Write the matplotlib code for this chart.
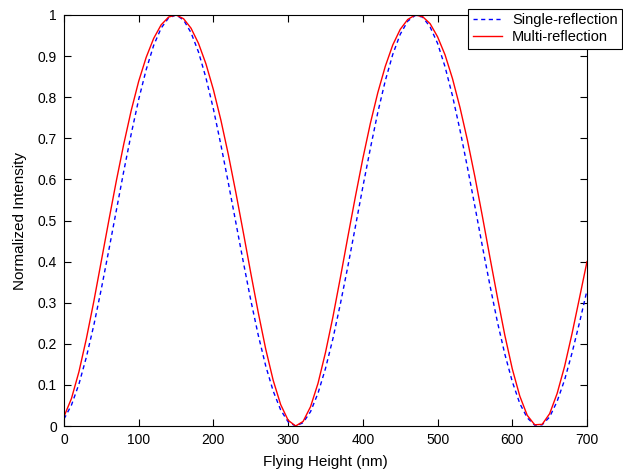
import matplotlib
matplotlib.use('Agg')
import matplotlib.pyplot as plt

plt.rcParams['font.family'] = ['Liberation Sans', 'DejaVu Sans']

# flying height samples (nm)
height = list(range(0, 701, 10))

# intensity
single_reflection = [
    0.017, 0.051, 0.102, 0.168, 0.246, 0.334, 0.428, 0.524, 0.620, 0.711,
    0.795, 0.867, 0.926, 0.968, 0.993, 1.000, 0.988, 0.957, 0.910, 0.847,
    0.771, 0.684, 0.591, 0.495, 0.399, 0.306, 0.221, 0.146, 0.085, 0.039,
    0.010, 0.000, 0.008, 0.035, 0.080, 0.140, 0.213, 0.298, 0.389, 0.485,
    0.582, 0.675, 0.763, 0.840, 0.904, 0.953, 0.985, 0.999, 0.995, 0.971,
    0.931, 0.874, 0.803, 0.720, 0.629, 0.534, 0.437, 0.343, 0.254, 0.175,
    0.108, 0.055, 0.020, 0.002, 0.003, 0.022, 0.060, 0.112, 0.178, 0.252,
    0.330,
]
multi_reflection = [
    0.023, 0.067, 0.132, 0.213, 0.304, 0.402, 0.500, 0.596, 0.686, 0.768,
    0.839, 0.897, 0.943, 0.976, 0.995, 1.000, 0.991, 0.968, 0.931, 0.881,
    0.818, 0.744, 0.660, 0.568, 0.471, 0.372, 0.276, 0.187, 0.111, 0.052,
    0.014, 0.000, 0.011, 0.047, 0.104, 0.179, 0.266, 0.362, 0.461, 0.558,
    0.651, 0.736, 0.811, 0.875, 0.927, 0.965, 0.989, 1.000, 0.996, 0.979,
    0.947, 0.903, 0.845, 0.775, 0.695, 0.606, 0.510, 0.411, 0.314, 0.221,
    0.139, 0.073, 0.026, 0.003, 0.004, 0.030, 0.079, 0.145, 0.225, 0.312,
    0.400,
]

x_ticks = [0, 100, 200, 300, 400, 500, 600, 700]
y_ticks = [0, 0.1, 0.2, 0.3, 0.4, 0.5, 0.6, 0.7, 0.8, 0.9, 1]
y_tick_labels = ['0', '0.1', '0.2', '0.3', '0.4', '0.5', '0.6', '0.7', '0.8', '0.9', '1']

fig = plt.figure(figsize=(6.23, 4.72), dpi=100)
ax = fig.add_axes([64 / 623, 1 - 426 / 472, (587 - 64) / 623, (426 - 15) / 472])

ax.plot(height, single_reflection, color='#0000ff', lw=1.0,
        linestyle=(0, (3, 2.5)), label='Single-reflection')
ax.plot(height, multi_reflection, color='#ff0000', lw=1.0,
        label='Multi-reflection')

ax.set_xlim(0, 700)
ax.set_ylim(0, 1)
ax.set_xticks(x_ticks)
ax.set_xticklabels([str(t) for t in x_ticks])
ax.set_yticks(y_ticks)
ax.set_yticklabels(y_tick_labels)
ax.tick_params(direction='in', top=True, right=True, length=5, width=0.8,
               labelsize=10, colors='black', pad=5)
for sp in ax.spines.values():
    sp.set_linewidth(0.8)
    sp.set_color('black')

ax.set_xlabel('Flying Height (nm)', fontsize=11, labelpad=6)
ax.set_ylabel('Normalized Intensity', fontsize=11, labelpad=8)

leg = ax.legend(loc='upper right', bbox_to_anchor=(622 / 623, 1 - 9 / 472),
                bbox_transform=fig.transFigure, fontsize=10.5, frameon=True,
                fancybox=False, framealpha=1, edgecolor='black',
                handlelength=2.0, borderaxespad=0, borderpad=0.3,
                labelspacing=0.2, handletextpad=0.7)
leg.get_frame().set_linewidth(0.8)

fig.savefig('out.png', dpi=100)
